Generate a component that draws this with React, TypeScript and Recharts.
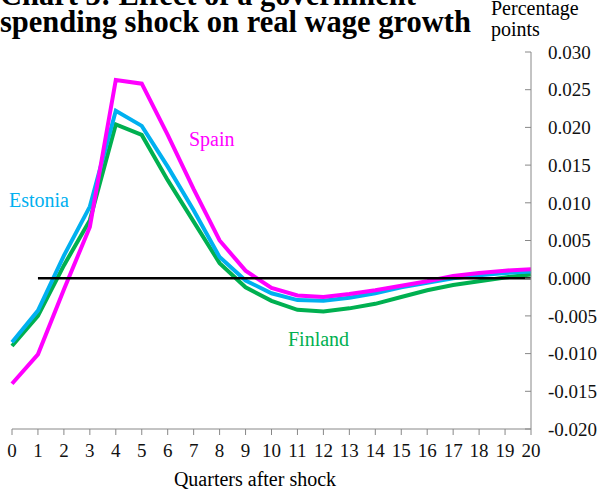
import { LineChart, Line, XAxis, YAxis, ReferenceLine } from "recharts";

const quarters = [0, 1, 2, 3, 4, 5, 6, 7, 8, 9, 10, 11, 12, 13, 14, 15, 16, 17, 18, 19, 20];
const spain = [-0.014, -0.0101, -0.0015, 0.0068, 0.0263, 0.0258, 0.019, 0.0118, 0.005, 0.001, -0.0013, -0.0023, -0.0025, -0.0021, -0.0016, -0.001, -0.0004, 0.0003, 0.0007, 0.001, 0.0012];
const estonia = [-0.0085, -0.0043, 0.003, 0.0095, 0.0222, 0.0202, 0.0148, 0.009, 0.0028, -0.0003, -0.002, -0.0029, -0.003, -0.0026, -0.002, -0.0012, -0.0006, 0.0, 0.0004, 0.0007, 0.0009];
const finland = [-0.009, -0.005, 0.0017, 0.0077, 0.0204, 0.019, 0.013, 0.0075, 0.002, -0.0012, -0.003, -0.0042, -0.0044, -0.004, -0.0034, -0.0025, -0.0016, -0.0009, -0.0004, 0.0001, 0.0005];
const yTicks = [-0.02, -0.015, -0.01, -0.005, 0, 0.005, 0.01, 0.015, 0.02, 0.025, 0.03];

const data = quarters.map((q, i) => ({ q, spain: spain[i], estonia: estonia[i], finland: finland[i] }));

const SERIF = '"Liberation Serif", "Times New Roman", serif';
const AXIS = "#888888";

export default function App() {
  return (
    <div style={{ position: "absolute", left: 0, top: 0, width: 600, height: 490, overflow: "hidden", background: "#fff", fontFamily: SERIF }}>
      <LineChart width={600} height={490} data={data} margin={{ top: 52, right: 0, bottom: 0, left: 12 }} style={{ fontFamily: SERIF }}>
        <XAxis
          dataKey="q"
          type="number"
          domain={[0, 20]}
          ticks={quarters}
          interval={0}
          height={61}
          stroke={AXIS}
          tickSize={6}
          tickMargin={9}
          fontFamily={SERIF}
          fontSize={19}
          tick={{ fill: "#111", fontSize: 19, fontFamily: SERIF }}
        />
        <YAxis
          orientation="right"
          width={69}
          domain={[-0.02, 0.03]}
          ticks={yTicks}
          interval={0}
          stroke={AXIS}
          tickSize={-6}
          tickMargin={23}
          fontFamily={SERIF}
          fontSize={19}
          tickFormatter={(v: number) => v.toFixed(3)}
          tick={{ fill: "#111", fontSize: 19, fontFamily: SERIF, textAnchor: "start" }}
        />
        <Line dataKey="finland" stroke="#00B050" strokeWidth={4} dot={false} isAnimationActive={false} />
        <Line dataKey="estonia" stroke="#00B0F0" strokeWidth={4} dot={false} isAnimationActive={false} />
        <Line dataKey="spain" stroke="#FF00FF" strokeWidth={4} dot={false} isAnimationActive={false} />
        <ReferenceLine segment={[{ x: 1, y: 0 }, { x: 20, y: 0 }]} stroke="#000" strokeWidth={2.5} />
      </LineChart>
      <svg width={600} height={490} style={{ position: "absolute", left: 0, top: 0, pointerEvents: "none" }}>
        <g fontFamily={SERIF}>
          <text x={0} y={5} fontSize={30.5} fontWeight="bold">Chart 3: Effect of a government</text>
          <text x={0} y={32} fontSize={30.5} fontWeight="bold">spending shock on real wage growth</text>
          <text x={491} y={15} fontSize={20}>Percentage</text>
          <text x={491} y={36} fontSize={20}>points</text>
          <text x={189} y={146} fontSize={20} fill="#FF00FF">Spain</text>
          <text x={9} y={207} fontSize={20} fill="#00B0F0">Estonia</text>
          <text x={288} y={346} fontSize={20} fill="#00B050">Finland</text>
          <text x={255} y={486} fontSize={20} textAnchor="middle">Quarters after shock</text>
        </g>
      </svg>
    </div>
  );
}
